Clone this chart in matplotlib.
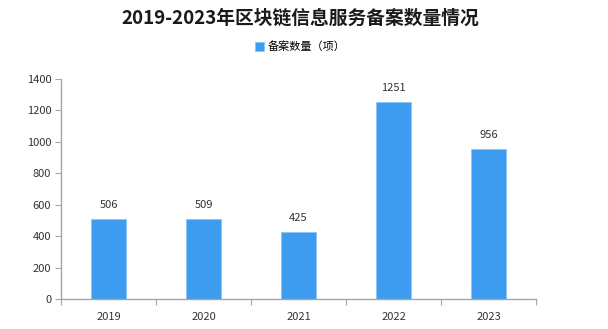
import matplotlib.pyplot as plt

plt.rcParams['font.family'] = ['Noto Sans CJK SC', 'DejaVu Sans']

years = ['2019', '2020', '2021', '2022', '2023']
counts = [506, 509, 425, 1251, 956]
y_ticks = [0, 200, 400, 600, 800, 1000, 1200, 1400]

bar_color = '#3d9cf0'
axis_color = '#a6a6a6'

fig = plt.figure(figsize=(6.08, 3.29), dpi=100)
ax = fig.add_axes([61 / 608, 1 - 299 / 329, (536 - 61) / 608, (299 - 79) / 329])

x = range(len(years))
bars = ax.bar(x, counts, width=0.36, color=bar_color, edgecolor='#8cc6f7', linewidth=0.6,
              label='备案数量（项）')

for xi, v in zip(x, counts):
    ax.text(xi, v + 90, str(v), ha='center', va='center', fontsize=8, color='#333333')

ax.set_xlim(-0.5, len(years) - 0.5)
ax.set_ylim(0, 1400)
ax.set_yticks(y_ticks)
ax.set_yticklabels([str(t) for t in y_ticks], fontsize=8, color='#333333')

# ticks on category boundaries, labels centred under bars
ax.set_xticks([i - 0.5 for i in range(len(years) + 1)])
ax.set_xticklabels([])
ax.set_xticks(list(x), minor=True)
ax.set_xticklabels(years, minor=True, fontsize=8, color='#333333')
ax.tick_params(axis='x', which='minor', length=0, pad=9)
ax.tick_params(axis='x', which='major', length=4, color=axis_color)
ax.tick_params(axis='y', length=4, color=axis_color, pad=3)

for side in ['top', 'right']:
    ax.spines[side].set_visible(False)
for side in ['left', 'bottom']:
    ax.spines[side].set_color(axis_color)
    ax.spines[side].set_linewidth(1.0)

fig.text(300 / 608, 1 - 18 / 329, '2019-2023年区块链信息服务备案数量情况', ha='center', va='center',
         fontsize=13.5, fontweight='bold', color='#1a1a1a')
fig.legend(handles=[bars], loc='center', bbox_to_anchor=(300 / 608, 1 - 47 / 329), frameon=False,
           fontsize=8, handlelength=0.8, handleheight=0.8, handletextpad=0.3)

fig.savefig('out.png', dpi=100)
